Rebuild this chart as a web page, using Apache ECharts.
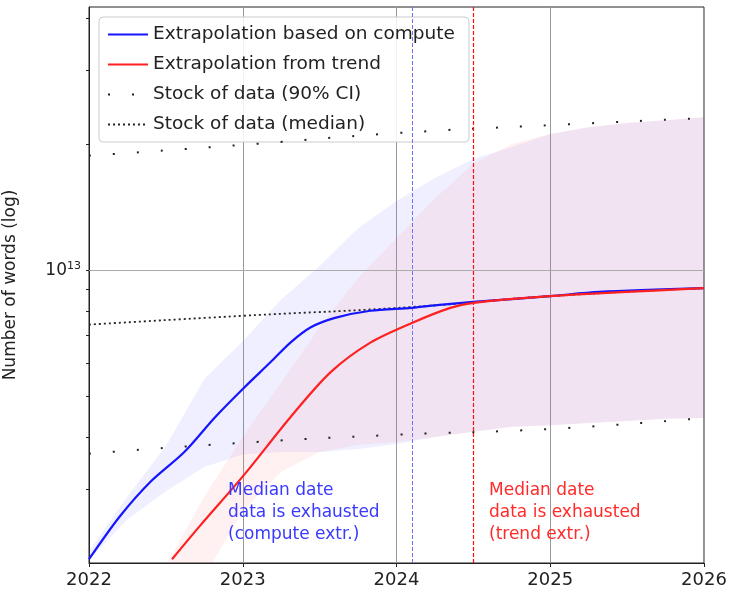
<!DOCTYPE html>
<html>
<head>
<meta charset="utf-8">
<script src="https://cdn.jsdelivr.net/npm/echarts@6/dist/echarts.min.js"></script>
<style>html,body{margin:0;background:#fff}#c{width:739px;height:595px}</style>
</head>
<body>
<div id="c"></div>
<script>
// all y values are log10(number of words)
const computeLine = [[2022,12.310],[2022.20,12.412],[2022.40,12.495],[2022.62,12.566],[2022.82,12.649],[2023.01,12.720],[2023.18,12.780],[2023.31,12.827],[2023.44,12.863],[2023.60,12.886],[2023.83,12.903],[2024.10,12.910],[2024.28,12.917],[2024.50,12.924],[2025.0,12.938],[2025.32,12.948],[2026,12.957]];
const trendLine = [[2022.54,12.310],[2022.72,12.389],[2023.01,12.512],[2023.31,12.649],[2023.57,12.756],[2023.83,12.827],[2024.10,12.874],[2024.35,12.910],[2024.50,12.922],[2025,12.938],[2026,12.957]];
const stockMedian = [[2022,12.870],[2023,12.891],[2024.1,12.912],[2025,12.938],[2026,12.957]];
const stockUpper = [[2022,13.273],[2023,13.299],[2024,13.327],[2025,13.346],[2026,13.363]];
const stockLower = [[2022,12.562],[2023,12.588],[2024,12.607],[2025,12.621],[2026,12.647]];

const quarters = [2022,2022.25,2022.5,2022.75,2023,2023.25,2023.5,2023.75,2024,2024.25,2024.5,2024.75,2025,2025.25,2025.5,2025.75,2026];
const computeBandHi = [12.329,12.460,12.580,12.740,12.830,12.930,13.010,13.100,13.165,13.220,13.265,13.294,13.325,13.341,13.351,13.358,13.365];
const computeBandLo = [12.310,12.405,12.472,12.530,12.560,12.566,12.566,12.573,12.585,12.602,12.614,12.626,12.630,12.635,12.640,12.645,12.647];
const trendBandHi = [12.223,12.223,12.294,12.460,12.602,12.732,12.863,12.981,13.076,13.171,13.254,13.301,13.325,13.341,13.351,13.358,13.365];
const trendBandLo = [12.1,12.1,12.1,12.270,12.424,12.519,12.566,12.583,12.590,12.602,12.614,12.626,12.630,12.635,12.640,12.645,12.647];

const medianComputeDate = 2024.10;
const medianTrendDate = 2024.50;
const minorTicks = [12.477,12.602,12.699,12.778,12.845,12.903,12.954,13.301,13.477,13.602];

const font = 'DejaVu Sans';

// band as one polygon: upper edge forward, lower edge back
const band = (lo, hi, color) => ({
    type: 'custom', silent: true, z: 1, clip: true,
    data: [0],
    renderItem: (params, api) => {
        const pts = quarters.map((q, i) => api.coord([q, hi[i]]))
            .concat(quarters.map((q, i) => api.coord([q, lo[i]])).reverse());
        return {type: 'polygon', shape: {points: pts}, style: {fill: color}};
    }
});

const chart = echarts.init(document.getElementById('c'));
chart.setOption({
    animation: false,
    grid: {left: 89, right: 35, top: 7, bottom: 32, show: true, borderColor: '#222', borderWidth: 1, outerBoundsMode: 'none'},
    legend: {
        left: 99, top: 17, orient: 'vertical', itemGap: 11, itemWidth: 40, itemHeight: 18,
        borderColor: '#ccc', borderWidth: 1, borderRadius: 4, padding: [8, 14, 8, 8],
        backgroundColor: 'rgba(255,255,255,0.85)',
        textStyle: {fontFamily: font, fontSize: 18.5, color: '#222'},
        itemStyle: {opacity: 0},
        data: ['Extrapolation based on compute', 'Extrapolation from trend', 'Stock of data (90% CI)', 'Stock of data (median)']
    },
    xAxis: {
        type: 'value', min: 2022, max: 2026, interval: 1,
        axisLine: {lineStyle: {color: '#222'}},
        axisTick: {length: 4, lineStyle: {color: '#222'}},
        axisLabel: {fontFamily: font, fontSize: 18, color: '#222', margin: 8, formatter: v => String(v)},
        splitLine: {show: true, lineStyle: {color: '#999', width: 1}}
    },
    yAxis: {
        type: 'value', min: 12.301, max: 13.628,
        name: 'Number of words (log)', nameLocation: 'middle', nameGap: 70,
        nameTextStyle: {fontFamily: font, fontSize: 17, color: '#222'},
        axisLine: {show: true, lineStyle: {color: '#222'}},
        axisTick: {show: true, length: 3, customValues: minorTicks.concat([13]), lineStyle: {color: '#222'}},
        axisLabel: {customValues: [13], fontFamily: font, fontSize: 17, color: '#222',
            formatter: () => '{b|10}{s|13}',
            rich: {b: {fontFamily: font, fontSize: 17, color: '#222'}, s: {fontFamily: font, fontSize: 11, color: '#222', verticalAlign: 'top', padding: [0, 0, 8, 0]}}},
        splitLine: {show: false}
    },
    series: [
        band(computeBandLo, computeBandHi, 'rgba(100,100,255,0.10)'),
        band(trendBandLo, trendBandHi, 'rgba(255,100,100,0.09)'),
        {type: 'line', data: [], markLine: {silent: true, symbol: 'none', label: {show: false},
            data: [{yAxis: 13, lineStyle: {color: '#aaa', type: 'solid', width: 1.2}}]}},
        {type: 'line', data: [], markLine: {silent: true, symbol: 'none', label: {show: false},
            data: [{xAxis: medianComputeDate, lineStyle: {color: '#7070ff', type: [4, 2], width: 1}}]}},
        {type: 'line', data: [], markLine: {silent: true, symbol: 'none', label: {show: false},
            data: [{xAxis: medianTrendDate, lineStyle: {color: '#ff1010', type: [4, 2], width: 1.2}}]}},
        {name: 'Stock of data (median)', type: 'line', symbol: 'none', data: stockMedian, smooth: true,
         lineStyle: {color: '#222', width: 1.8, type: [2, 3]}, itemStyle: {color: '#222'}, z: 4},
        {name: 'Stock of data (90% CI)', type: 'line', symbol: 'none', data: stockUpper, smooth: true,
         lineStyle: {color: '#222', width: 2, type: [2, 22]}, itemStyle: {color: '#222'}, z: 4},
        {name: 'Stock of data (90% CI) ', type: 'line', symbol: 'none', data: stockLower, smooth: true,
         lineStyle: {color: '#222', width: 2, type: [2, 22]}, z: 4},
        {name: 'Extrapolation based on compute', type: 'line', symbol: 'none', data: computeLine, smooth: 0.3,
         lineStyle: {color: '#1515ff', width: 2.2}, itemStyle: {color: '#1515ff'}, z: 5},
        {name: 'Extrapolation from trend', type: 'line', symbol: 'none', data: trendLine, smooth: 0.3,
         lineStyle: {color: '#ff2020', width: 2.2}, itemStyle: {color: '#ff2020'}, z: 5}
    ],
    graphic: [
        {type: 'text', left: 228, top: 480, z: 10,
         style: {text: 'Median date\ndata is exhausted\n(compute extr.)', fill: '#3a3aff', font: '17px "DejaVu Sans"', lineHeight: 22}},
        {type: 'text', left: 489, top: 480, z: 10,
         style: {text: 'Median date\ndata is exhausted\n(trend extr.)', fill: '#ff2a2a', font: '17px "DejaVu Sans"', lineHeight: 22}}
    ]
});
</script>
</body>
</html>
